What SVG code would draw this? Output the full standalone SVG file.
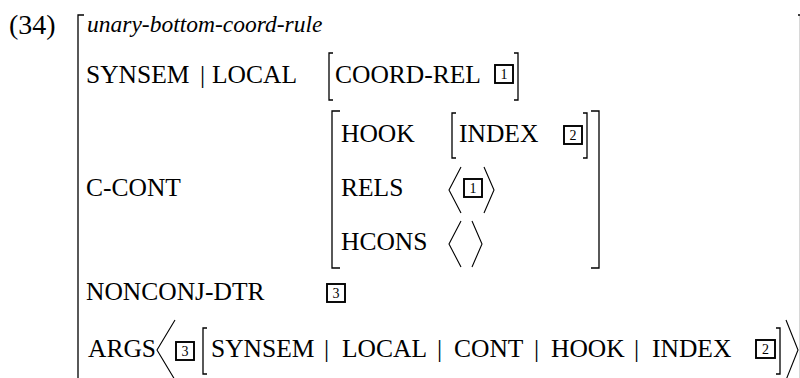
<svg xmlns="http://www.w3.org/2000/svg" width="800" height="378" viewBox="0 0 800 378">
<style>
.t{font-family:"Liberation Serif","Times New Roman",serif;font-size:25.5px;fill:#000}
.it{font-family:"Liberation Serif","Times New Roman",serif;font-style:italic;font-size:23.5px;fill:#000}
.n{font-family:"Liberation Serif","Times New Roman",serif;font-size:28px;fill:#000}
.d{font-family:"Liberation Serif","Times New Roman",serif;font-size:14px;fill:#000;text-anchor:middle}
.br{fill:none;stroke:#000;stroke-width:1.3}
.ang{fill:none;stroke:#000;stroke-width:1.1}
.box{fill:none;stroke:#000;stroke-width:1.9}
</style>
<rect width="800" height="378" fill="#fff"/>
<text class="n" x="9" y="34">(34)</text>
<g id="outer">
<path class="br" d="M84,15 H78 V380"/>
<path class="br" d="M798,15 H800.5 V380"/>
<text class="it" x="87" y="32">unary-bottom-coord-rule</text>
</g>
<g id="synsem-local">
<text class="t" x="86" y="83">SYNSEM</text>
<text class="t" x="200" y="83">|</text>
<text class="t" x="212" y="83">LOCAL</text>
<path class="br" d="M333,53 H329 V100 H333"/>
<text class="t" x="335" y="83">COORD-REL</text>
<rect class="box" x="495" y="65" width="18" height="18"/>
<text class="d" x="504" y="79">1</text>
<path class="br" d="M514,53 H518 V100 H514"/>
</g>
<g id="c-cont">
<text class="t" x="86" y="196">C-CONT</text>
<path class="br" d="M340,111 H332 V268 H340"/>
<path class="br" d="M591,111 H599 V268 H591"/>
<text class="t" x="341" y="142">HOOK</text>
<path class="br" d="M456,113 H452 V158 H456"/>
<text class="t" x="459" y="142">INDEX</text>
<rect class="box" x="564" y="126" width="18" height="18"/>
<text class="d" x="573" y="140">2</text>
<path class="br" d="M583,113 H587 V158 H583"/>
<text class="t" x="341" y="196">RELS</text>
<polyline class="ang" points="461,167 449,190 461,213"/>
<rect class="box" x="464" y="179" width="18" height="18"/>
<text class="d" x="473" y="193">1</text>
<polyline class="ang" points="484,167 494,190 484,213"/>
<text class="t" x="341" y="250">HCONS</text>
<polyline class="ang" points="461,221 449,244 461,267"/>
<polyline class="ang" points="472,221 482,244 472,267"/>
</g>
<g id="nonconj-dtr">
<text class="t" x="86" y="300">NONCONJ-DTR</text>
<rect class="box" x="327" y="284" width="18" height="18"/>
<text class="d" x="336" y="298">3</text>
</g>
<g id="args">
<text class="t" x="88" y="357">ARGS</text>
<polyline class="ang" points="175,320 157,350 175,380"/>
<rect class="box" x="176" y="342" width="18" height="18"/>
<text class="d" x="185" y="356">3</text>
<path class="br" d="M207,328 H203 V374 H207"/>
<text class="t" x="211" y="357">SYNSEM</text>
<text class="t" x="324" y="357">|</text>
<text class="t" x="342" y="357">LOCAL</text>
<text class="t" x="437" y="357">|</text>
<text class="t" x="454" y="357">CONT</text>
<text class="t" x="534" y="357">|</text>
<text class="t" x="551" y="357">HOOK</text>
<text class="t" x="634" y="357">|</text>
<text class="t" x="652" y="357">INDEX</text>
<rect class="box" x="756" y="340" width="19" height="18"/>
<text class="d" x="765.5" y="354">2</text>
<path class="br" d="M776,328 H780 V374 H776"/>
<polyline class="ang" points="786,320 798,350 786,380"/>
</g>
</svg>
